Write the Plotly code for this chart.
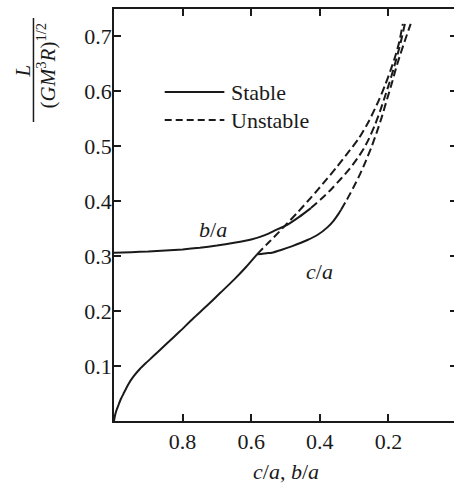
import plotly.graph_objects as go

# Maclaurin sequence (c/a), stable part
mac_stable_x = [1.0, 0.997, 0.993, 0.987, 0.980, 0.972, 0.958, 0.943, 0.924, 0.904, 0.885, 0.866, 0.842, 0.808, 0.77, 0.73, 0.69, 0.65, 0.615, 0.583]
mac_stable_y = [0.0, 0.010, 0.019, 0.029, 0.040, 0.050, 0.067, 0.081, 0.095, 0.107, 0.118, 0.129, 0.143, 0.163, 0.186, 0.209, 0.233, 0.257, 0.280, 0.303]
# Maclaurin sequence, unstable part
mac_unst_x = [0.583, 0.55, 0.52, 0.494, 0.465, 0.436, 0.405, 0.378, 0.35, 0.320, 0.286, 0.257, 0.228, 0.21, 0.194, 0.18, 0.168, 0.158]
mac_unst_y = [0.303, 0.324, 0.343, 0.360, 0.379, 0.399, 0.421, 0.441, 0.462, 0.486, 0.514, 0.545, 0.583, 0.610, 0.637, 0.663, 0.690, 0.722]

# Jacobi sequence b/a
ba_stable_x = [1.0, 0.95, 0.90, 0.85, 0.80, 0.75, 0.70, 0.65, 0.60, 0.56, 0.532, 0.494, 0.46, 0.426]
ba_stable_y = [0.306, 0.307, 0.308, 0.310, 0.312, 0.315, 0.319, 0.324, 0.330, 0.338, 0.346, 0.357, 0.371, 0.387]
ba_unst_x = [0.426, 0.397, 0.37, 0.339, 0.315, 0.291, 0.272, 0.257, 0.24, 0.225, 0.21, 0.197, 0.185, 0.173, 0.162, 0.152]
ba_unst_y = [0.387, 0.403, 0.419, 0.440, 0.457, 0.477, 0.495, 0.513, 0.537, 0.562, 0.590, 0.615, 0.640, 0.667, 0.694, 0.722]

# Jacobi sequence c/a
ca_stable_x = [0.583, 0.57, 0.555, 0.54, 0.513, 0.48, 0.436, 0.405, 0.378, 0.36, 0.345, 0.338]
ca_stable_y = [0.303, 0.3035, 0.305, 0.306, 0.311, 0.318, 0.329, 0.339, 0.352, 0.364, 0.377, 0.384]
ca_unst_x = [0.338, 0.325, 0.31, 0.295, 0.281, 0.265, 0.25, 0.235, 0.22, 0.204, 0.19, 0.178, 0.165, 0.15, 0.135]
ca_unst_y = [0.384, 0.398, 0.415, 0.433, 0.451, 0.474, 0.497, 0.523, 0.551, 0.585, 0.614, 0.641, 0.667, 0.695, 0.722]

x_ticks = [0.8, 0.6, 0.4, 0.2]
y_ticks = [0.1, 0.2, 0.3, 0.4, 0.5, 0.6, 0.7]

INK = "#1a1a1a"
FONT = "Liberation Serif"
solid = dict(color=INK, width=2)
dashed = dict(color=INK, width=2, dash="8px,4px")

fig = go.Figure()
for xs, ys, ln in [
    (mac_stable_x, mac_stable_y, solid),
    (mac_unst_x, mac_unst_y, dashed),
    (ba_stable_x, ba_stable_y, solid),
    (ba_unst_x, ba_unst_y, dashed),
    (ca_stable_x, ca_stable_y, solid),
    (ca_unst_x, ca_unst_y, dashed),
]:
    fig.add_trace(go.Scatter(x=xs, y=ys, mode="lines",
                             line=dict(shape="spline", smoothing=0.6, **ln),
                             showlegend=False, hoverinfo="skip"))

axis_common = dict(
    showgrid=False, zeroline=False, showline=True, linecolor=INK, linewidth=1.5,
    ticks="inside", ticklen=7, tickwidth=1.5, tickcolor=INK, mirror="ticks",
    tickfont=dict(family=FONT, size=22, color=INK),
)

fig.update_xaxes(range=[1.0, 0.0], tickvals=x_ticks, ticktext=[f"{v:.1f}" for v in x_ticks], **axis_common)
fig.update_yaxes(range=[0, 0.749], tickvals=y_ticks, ticktext=[f"{v:.1f}" for v in y_ticks],
                 ticklabelstandoff=-4, **axis_common)

L_M, T_M, PW, PH = 114, 9, 345, 412


def px_x(px):
    return (px - L_M) / PW


def px_y(py):
    return (T_M + PH - py) / PH


def note(x, y, text, size=22, angle=0, xanchor="center", ref="paper"):
    return dict(x=x, y=y, xref=ref if ref == "paper" else "x", yref=ref if ref == "paper" else "y",
                text=text, showarrow=False, textangle=angle,
                xanchor=xanchor, yanchor="middle",
                font=dict(family=FONT, size=size, color=INK))


annotations = [
    note(0.71, 0.349, "<i>b</i>/<i>a</i>", ref="data"),
    note(0.40, 0.272, "<i>c</i>/<i>a</i>", ref="data"),
    note(px_x(287), px_y(471), "<i>c</i>/<i>a</i>, <i>b</i>/<i>a</i>"),
    note(px_x(22), px_y(71), "<i>L</i>", size=21, angle=-90),
    note(px_x(46), px_y(65), "(<i>GM</i><sup>3</sup><i>R</i>)<sup>1/2</sup>", size=21, angle=-90),
    note(px_x(230), px_y(92), "Stable", xanchor="left"),
    note(px_x(230), px_y(120), "Unstable", xanchor="left"),
]

shapes = [
    dict(type="line", xref="paper", yref="paper", x0=px_x(33), x1=px_x(33), y0=px_y(18), y1=px_y(122),
         line=dict(color=INK, width=1.5)),
    dict(type="line", xref="paper", yref="paper", x0=px_x(165), x1=px_x(225), y0=px_y(92), y1=px_y(92),
         line=dict(color=INK, width=2)),
    dict(type="line", xref="paper", yref="paper", x0=px_x(165), x1=px_x(225), y0=px_y(120), y1=px_y(120),
         line=dict(color=INK, width=2, dash="7px,4px")),
]

fig.update_layout(
    width=L_M + PW + 1, height=485,
    margin=dict(l=L_M, r=1, t=T_M, b=485 - T_M - PH),
    paper_bgcolor="white", plot_bgcolor="white",
    annotations=annotations, shapes=shapes,
    showlegend=False,
)

fig.write_html(
    "out.html",
    config={"displayModeBar": False},
    post_script="document.body.style.margin='0';document.body.style.overflow='hidden';"
                "document.documentElement.style.overflow='hidden';",
)
